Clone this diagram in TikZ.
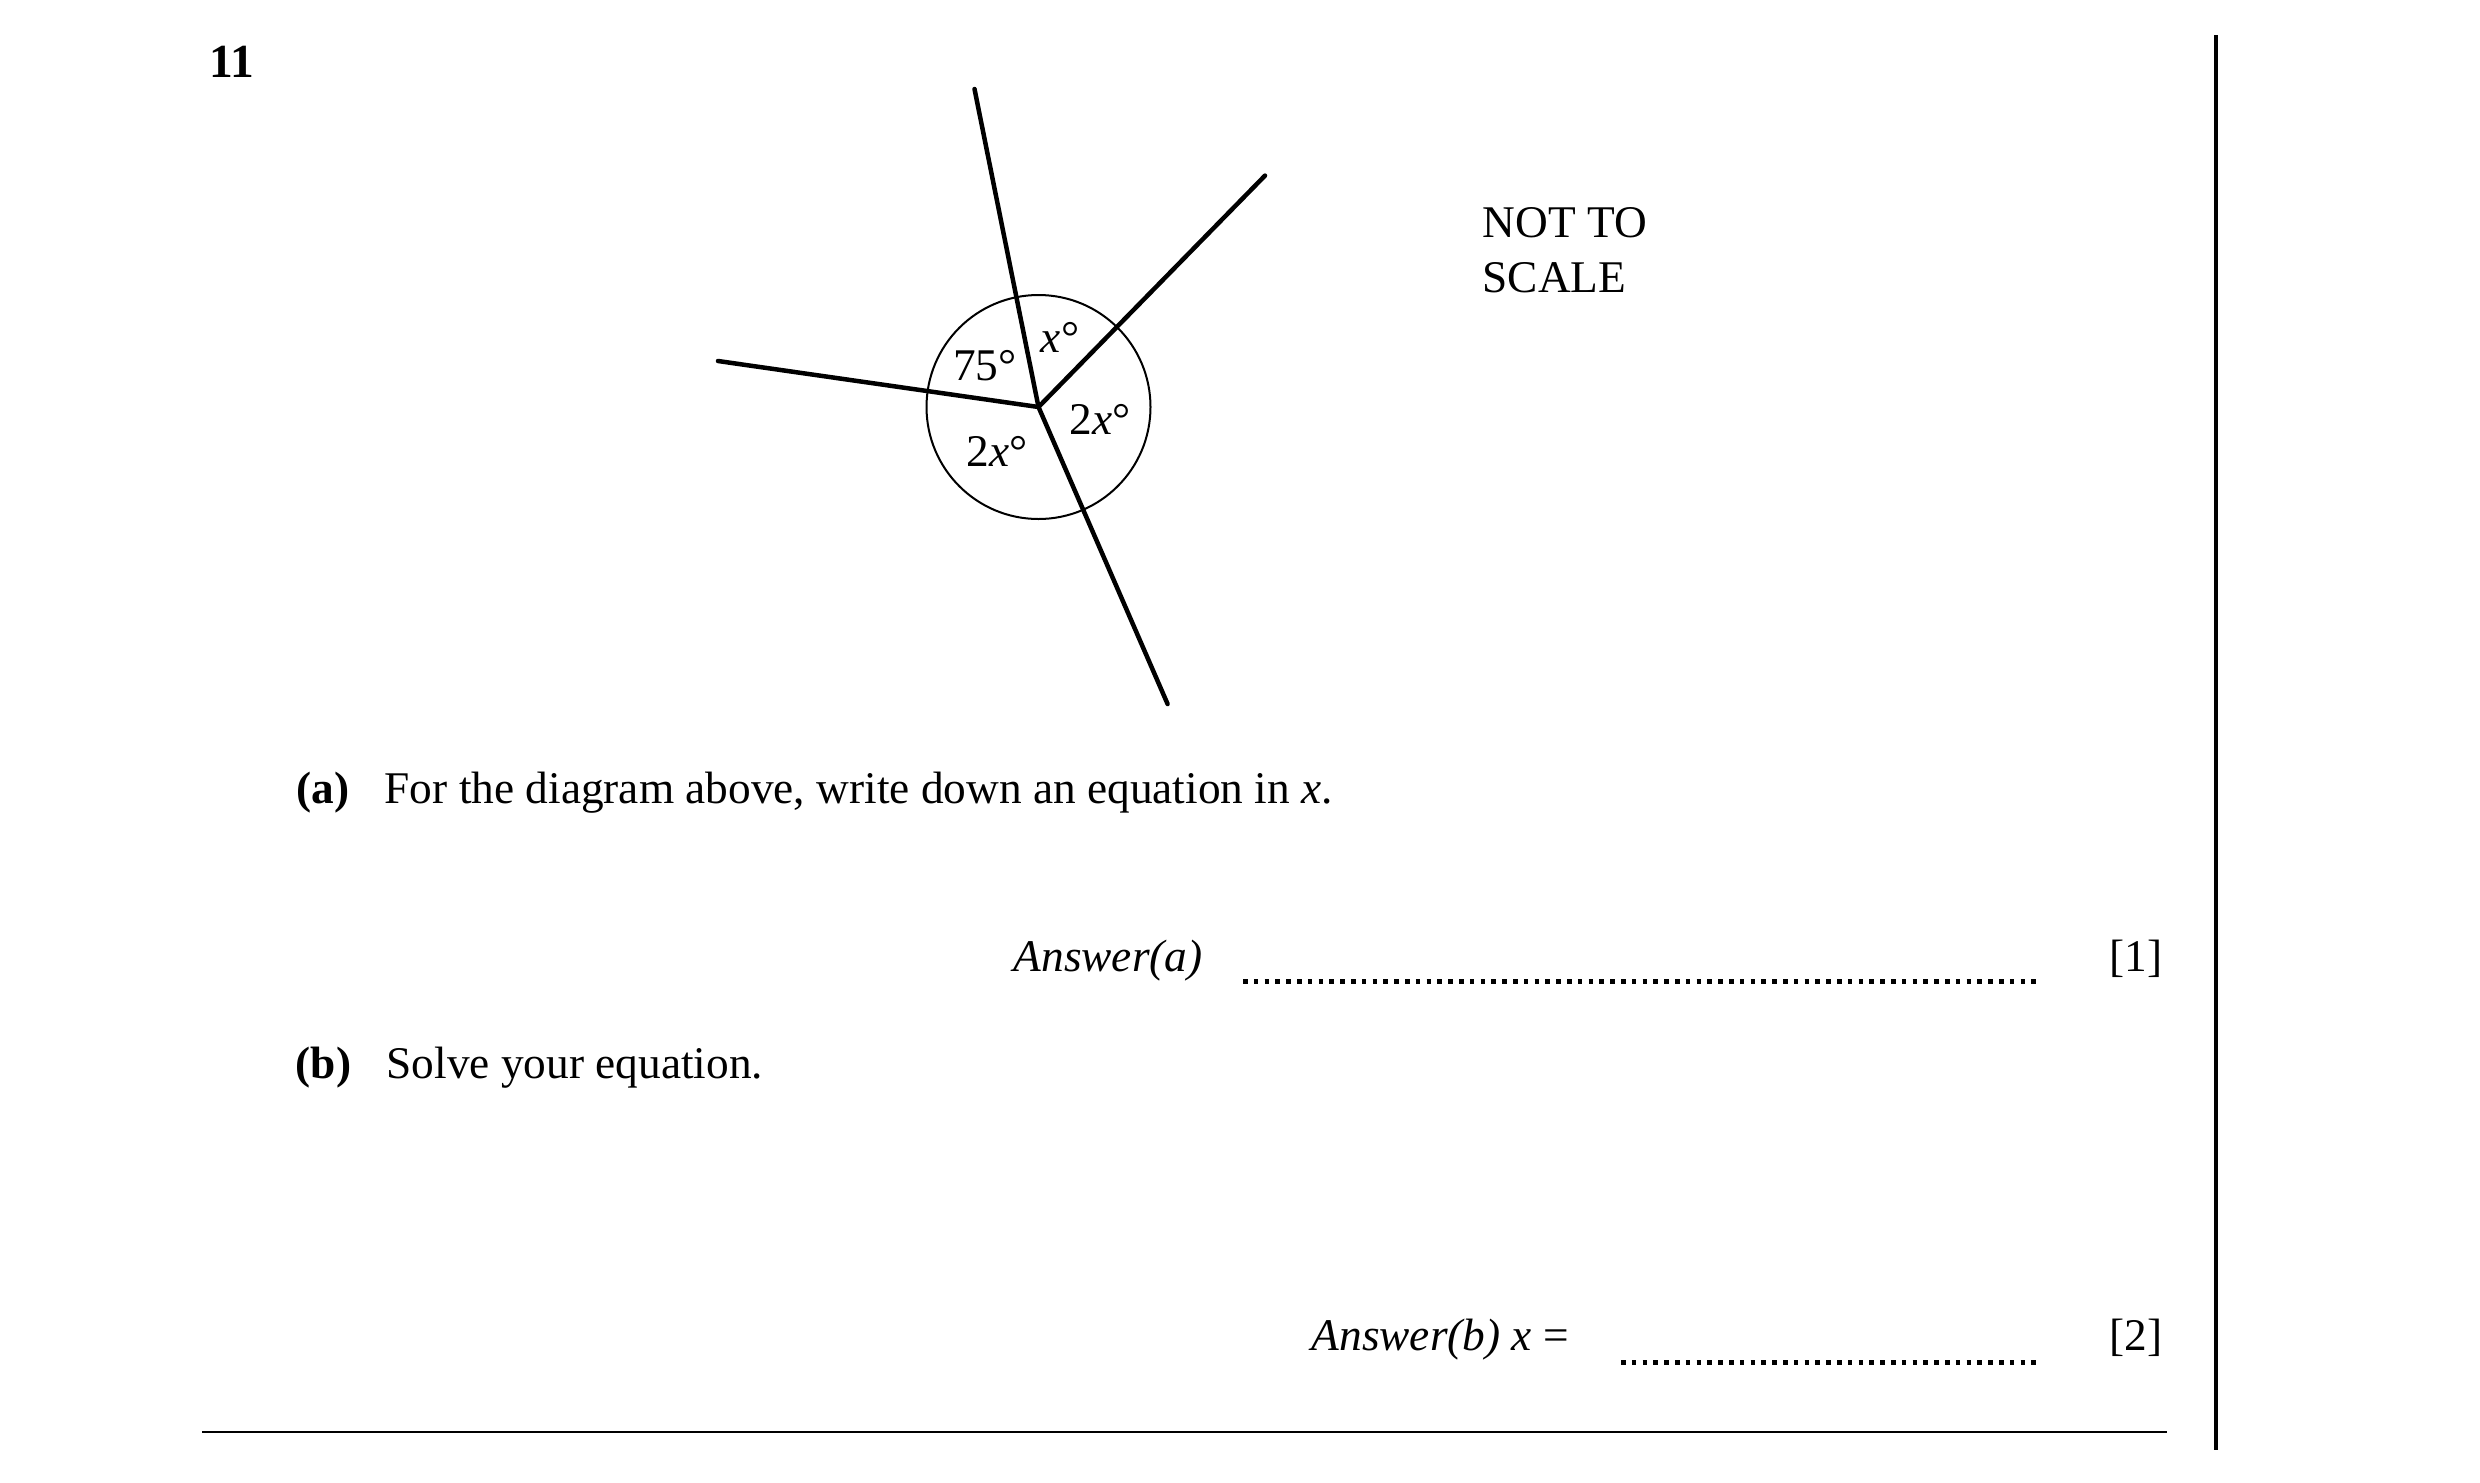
\documentclass[tikz,border=0pt]{standalone}
\usepackage{fontspec}
\setmainfont{Liberation Serif}

\begin{document}
\begin{tikzpicture}[x=0.1mm, y=-0.1mm,
    ray/.style={line width=0.45mm, line cap=round},
    txt/.style={anchor=base west, inner sep=0pt, font=\fontsize{12.9}{15.5}\selectfont},
    lbl/.style={anchor=base, inner sep=0pt, font=\fontsize{12.9}{15.5}\selectfont},
    answerdots/.style={line width=0.5mm, dash pattern=on 0.45mm off 0.63mm}]
    \useasboundingbox (0,0) rectangle (2480,1482);
    % question number
    \node[txt, font=\fontsize{13.5}{16}\selectfont\bfseries] (qnum) at (209,77) {11};
    % angles round a point
    \coordinate (O) at (1038.5,407);
    \coordinate (up) at (974.5,89);
    \coordinate (upright) at (1265,175.6);
    \coordinate (left) at (718,361);
    \coordinate (down) at (1167.6,704);
    \draw[line width=0.2mm] (O) circle[radius=11.2mm];
    \draw[ray] (O) -- (up);
    \draw[ray] (O) -- (upright);
    \draw[ray] (O) -- (left);
    \draw[ray] (O) -- (down);
    \node[lbl] (ang75) at (985,380) {75°};
    \node[lbl] (angx) at (1060,352) {\textit{x}°};
    \node[lbl] (angright) at (1100,434) {2\textit{x}°};
    \node[lbl] (anglow) at (997,466.7) {2\textit{x}°};
    \node[txt] (notto) at (1482,237) {NOT TO};
    \node[txt] (scale) at (1482,292) {SCALE};
    % part (a)
    \node[txt, font=\fontsize{12.9}{15.5}\selectfont\bfseries] (parta) at (296,803) {(a)};
    \node[txt] (texta) at (384,803) {For the diagram above, write down an equation in \textit{x}.};
    \node[txt] (ansa) at (1013,971) {\textit{Answer(a)}};
    \draw[answerdots] (1243,981) -- (2036,981);
    \node[txt] (marka) at (2109,971) {[1]};
    % part (b)
    \node[txt, font=\fontsize{12.9}{15.5}\selectfont\bfseries] (partb) at (295,1078) {(b)};
    \node[txt] (textb) at (386,1078) {Solve your equation.};
    \node[txt] (ansb) at (1311,1350) {\textit{Answer(b) x} =};
    \draw[answerdots] (1621,1362) -- (2036,1362);
    \node[txt] (markb) at (2109,1350) {[2]};
    % page rules
    \draw[line width=0.25mm] (202,1432) -- (2167,1432);
    \draw[line width=0.4mm] (2216,35) -- (2216,1450);
\end{tikzpicture}
\end{document}
